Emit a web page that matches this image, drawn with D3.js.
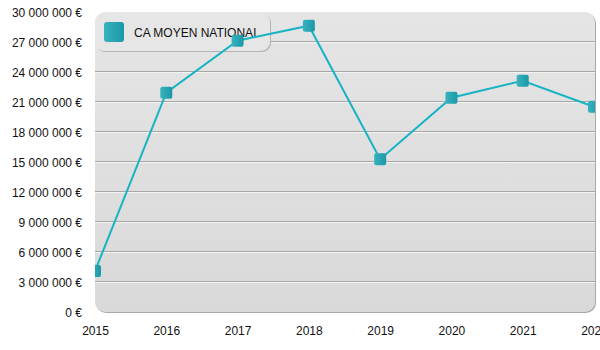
<!DOCTYPE html>
<html>
<head>
<meta charset="utf-8">
<script src="https://cdn.jsdelivr.net/npm/d3@7"></script>
<style>
  html, body { margin: 0; padding: 0; background: #fff; }
  svg { display: block; font-family: "Liberation Sans", Arial, sans-serif; }
</style>
</head>
<body>
<svg id="chart" width="600" height="350"></svg>
<script>
// Average national turnover per year
const years = ["2015", "2016", "2017", "2018", "2019", "2020", "2021", "2022"];
const caMoyen = [4100000, 21930000, 27130000, 28630000, 15270000, 21430000, 23130000, 20530000];
const yTicks = [0, 3000000, 6000000, 9000000, 12000000, 15000000, 18000000, 21000000, 24000000, 27000000, 30000000];
const seriesName = "CA MOYEN NATIONAL";

const svg = d3.select("#chart");
const plot = { left: 95, right: 595, top: 12, bottom: 312 };

const x = d3.scalePoint().domain(years).range([plot.left, 594]);
const y = d3.scaleLinear().domain([0, 30000000]).range([plot.bottom, plot.top]);

const fr = d3.formatLocale({ decimal: ",", thousands: "\u00a0", grouping: [3], currency: ["", " €"] });
const fmt = fr.format("$,.0f");

const defs = svg.append("defs");
const bg = defs.append("linearGradient").attr("id", "bg").attr("x1", 0).attr("y1", 0).attr("x2", 0).attr("y2", 1);
bg.append("stop").attr("offset", "0%").attr("stop-color", "#e5e5e5");
bg.append("stop").attr("offset", "100%").attr("stop-color", "#d9d9d9");

const mk = defs.append("linearGradient").attr("id", "mk").attr("x1", 0).attr("y1", 0).attr("x2", 1).attr("y2", 0);
mk.append("stop").attr("offset", "0%").attr("stop-color", "#38b3bf");
mk.append("stop").attr("offset", "100%").attr("stop-color", "#1b98a6");

defs.append("clipPath").attr("id", "clip")
  .append("rect")
  .attr("x", plot.left).attr("y", plot.top)
  .attr("width", plot.right - plot.left).attr("height", plot.bottom - plot.top)
  .attr("rx", 10);

// Plot panel with a soft edge on the right/bottom
svg.append("rect")
  .attr("x", plot.left + 1).attr("y", plot.top + 1)
  .attr("width", plot.right - plot.left).attr("height", plot.bottom - plot.top)
  .attr("rx", 10).attr("fill", "#a9a9a9");
svg.append("rect")
  .attr("x", plot.left).attr("y", plot.top)
  .attr("width", plot.right - plot.left).attr("height", plot.bottom - plot.top)
  .attr("rx", 10).attr("fill", "url(#bg)");

// Embossed grid lines
const grid = svg.append("g").attr("clip-path", "url(#clip)");
const gv = yTicks.filter(d => d > 0 && d < 30000000);
grid.selectAll("line.g1").data(gv).join("line")
  .attr("x1", plot.left).attr("x2", plot.right)
  .attr("y1", d => Math.round(y(d)) - 0.5).attr("y2", d => Math.round(y(d)) - 0.5)
  .attr("stroke", "#a6a6a6").attr("stroke-width", 1);
grid.selectAll("line.g2").data(gv).join("line")
  .attr("x1", plot.left).attr("x2", plot.right)
  .attr("y1", d => Math.round(y(d)) + 0.5).attr("y2", d => Math.round(y(d)) + 0.5)
  .attr("stroke", "#f4f4f4").attr("stroke-width", 1);

// Y axis labels
const yAxis = svg.append("g")
  .attr("transform", `translate(${plot.left - 13},0)`)
  .call(d3.axisLeft(y).tickValues(yTicks).tickFormat(fmt).tickSize(0).tickPadding(0));
yAxis.select(".domain").remove();
yAxis.selectAll("text").attr("font-size", 12).attr("fill", "#111")
  .attr("font-family", "Liberation Sans, Arial, sans-serif").attr("dy", "0.35em");

// X axis labels
const xAxis = svg.append("g")
  .attr("transform", `translate(0,${plot.bottom + 14})`)
  .call(d3.axisBottom(x).tickSize(0).tickPadding(0));
xAxis.select(".domain").remove();
xAxis.selectAll("text").attr("font-size", 12).attr("fill", "#111")
  .attr("font-family", "Liberation Sans, Arial, sans-serif").attr("dy", "0.75em");

// Legend
const lg = svg.append("g");
lg.append("rect").attr("x", 96).attr("y", 14).attr("width", 175).attr("height", 38)
  .attr("rx", 9).attr("fill", "#b4b4b4");
lg.append("rect").attr("x", 95).attr("y", 13).attr("width", 175).attr("height", 38)
  .attr("rx", 9).attr("fill", "#e6e6e6");
lg.append("rect").attr("x", 104).attr("y", 22).attr("width", 20).attr("height", 20)
  .attr("rx", 3).attr("fill", "url(#mk)");
lg.append("text").attr("x", 134).attr("y", 37).attr("font-size", 12).attr("fill", "#111")
  .text(seriesName);

// Series line and markers
const data = years.map((yr, i) => ({ yr, v: caMoyen[i] }));
const series = svg.append("g").attr("clip-path", "url(#clip)");
series.append("path")
  .datum(data)
  .attr("fill", "none").attr("stroke", "#16b4c4").attr("stroke-width", 2)
  .attr("d", d3.line().x(d => x(d.yr)).y(d => y(d.v)));
series.selectAll("rect.m").data(data).join("rect")
  .attr("x", d => x(d.yr) - 6).attr("y", d => y(d.v) - 6)
  .attr("width", 12).attr("height", 12).attr("rx", 2)
  .attr("fill", "url(#mk)");
</script>
</body>
</html>
